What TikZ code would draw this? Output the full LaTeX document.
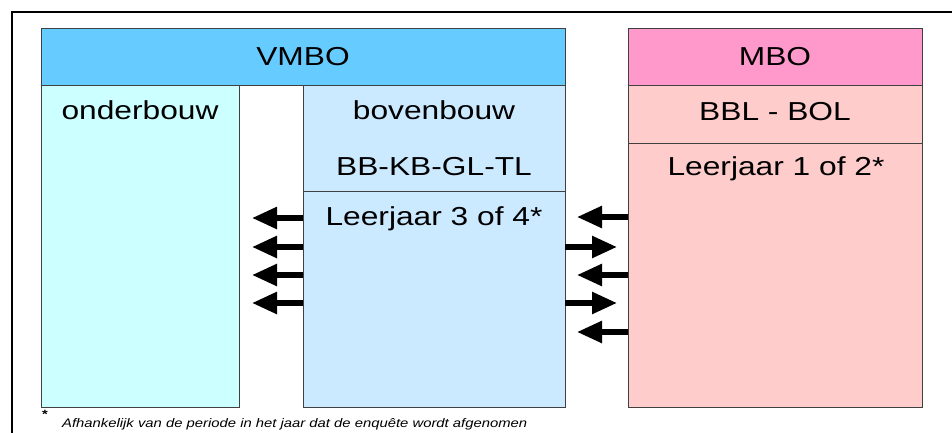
\documentclass[tikz,border=0pt]{standalone}
\usepackage{fontspec}
\setmainfont{Liberation Sans}[FakeStretch=1.22]
\usetikzlibrary{arrows.meta}
\definecolor{vmbohead}{HTML}{66CCFF}
\definecolor{onderc}{HTML}{CCFFFF}
\definecolor{bovenc}{HTML}{CCEAFF}
\definecolor{mbohead}{HTML}{FF99CC}
\definecolor{mboc}{HTML}{FFCCCC}
\definecolor{edgec}{HTML}{404040}
\tikzset{
  box/.style={draw=edgec, line width=1pt, inner sep=0pt, outer sep=0pt, anchor=north west},
  lbl/.style={font=\fontsize{26}{30}\selectfont, inner sep=0pt, anchor=base},
  arr/.style={line width=5.5pt, -{Triangle[length=25pt,width=21pt]}},
}
\begin{document}
\begin{tikzpicture}[x=1pt,y=-1pt]
\useasboundingbox (0,0) rectangle (952,433);
\fill[white] (0,0) rectangle (952,433);
% outer frame
\draw[line width=2.5pt] (12,440) -- (12,12) -- (960,12);
% VMBO
\node[box, fill=vmbohead, minimum width=524pt, minimum height=57pt] (vmbo) at (41,29) {};
\node[box, fill=onderc, minimum width=198pt, minimum height=321pt] (ond) at (41,86) {};
\node[box, fill=bovenc, minimum width=262pt, minimum height=105pt] (bovtop) at (303,86) {};
\node[box, fill=bovenc, minimum width=262pt, minimum height=216pt] (bov) at (303,191) {};
% MBO
\node[box, fill=mbohead, minimum width=294pt, minimum height=57pt] (mbo) at (628,29) {};
\node[box, fill=mboc, minimum width=294pt, minimum height=57pt] (mbotop) at (628,86) {};
\node[box, fill=mboc, minimum width=294pt, minimum height=264pt] (mbobody) at (628,143) {};
% labels
\node[lbl] (tvmbo) at (303,66) {VMBO};
\node[lbl] (tmbo) at (775,66) {MBO};
\node[lbl] (tond) at (140,120) {onderbouw};
\node[lbl] (tbov) at (434,120) {bovenbouw};
\node[lbl] (tbb) at (434,175) {BB-KB-GL-TL};
\node[lbl] (tlj3) at (434,225) {Leerjaar 3 of 4*};
\node[lbl] (tbbl) at (775,121) {BBL - BOL};
\node[lbl] (tlj1) at (776,175) {Leerjaar 1 of 2*};
% arrows VMBO boven -> onder
\coordinate (a1) at (252,218);
\coordinate (a2) at (252,247);
\coordinate (a3) at (252,275);
\coordinate (a4) at (252,303);
\foreach \c in {a1,a2,a3,a4} \draw[arr] (bov.west |- \c) -- (\c);
% arrows between VMBO and MBO
\coordinate (b1) at (577,217);
\coordinate (b2) at (617,247);
\coordinate (b3) at (577,275);
\coordinate (b4) at (617,303);
\coordinate (b5) at (577,332);
\foreach \c in {b1,b3,b5} \draw[arr] (mbobody.west |- \c) -- (\c);
\foreach \c in {b2,b4} \draw[arr] (bov.east |- \c) -- (\c);
% footnote
\node[inner sep=0pt, anchor=base] (star) at (45,418) {\fontsize{12}{12}\selectfont\bfseries *};
\node[inner sep=0pt, anchor=base west] (foot) at (62,427) {\resizebox{465pt}{9pt}{\itshape Afhankelijk van de periode in het jaar dat de enquête wordt afgenomen}};
\end{tikzpicture}
\end{document}
